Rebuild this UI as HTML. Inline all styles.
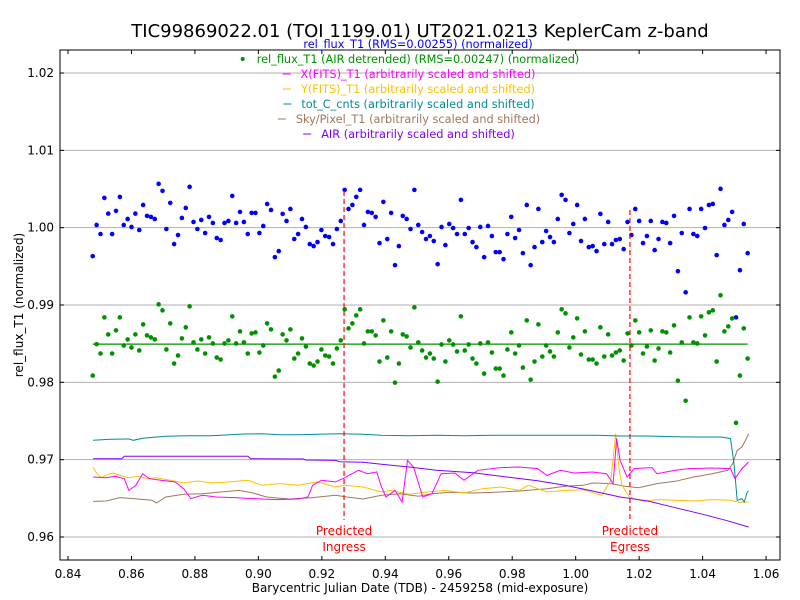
<!DOCTYPE html>
<html><head><meta charset="utf-8"><style>
html,body{margin:0;padding:0;background:#fff;}
svg{display:block;font-family:"DejaVu Sans","Liberation Sans",sans-serif;}
</style></head><body>
<svg id="chart" width="800" height="600" viewBox="0 0 800 600" xmlns="http://www.w3.org/2000/svg">
<rect x="0" y="0" width="800" height="600" fill="#fff"/>
<text x="420" y="37" font-size="18" text-anchor="middle" fill="#000">TIC99869022.01 (TOI 1199.01) UT2021.0213 KeplerCam z-band</text>
<g id="grid"></g><g id="marks"></g><g id="axes"></g><g id="legend"></g>
</svg>
<script>
const xTicks=[0.84,0.86,0.88,0.90,0.92,0.94,0.96,0.98,1.00,1.02,1.04,1.06];
const xTickLabels=["0.84","0.86","0.88","0.90","0.92","0.94","0.96","0.98","1.00","1.02","1.04","1.06"];
const yTicks=[0.96,0.97,0.98,0.99,1.00,1.01,1.02];
const yTickLabels=["0.96","0.97","0.98","0.99","1.00","1.01","1.02"];
const tStart=0.8478, tEnd=1.0542;
const blueFlux=[0.99632,1.00035,0.99918,1.00385,1.00182,0.99918,1.00217,1.00398,1.00035,1.00113,1.00009,1.00182,0.99970,1.00294,1.00152,1.00139,1.00113,1.00567,1.00476,0.99983,1.00320,0.99788,0.99905,1.00126,1.00255,1.00528,1.00074,0.99983,1.00100,0.99931,1.00139,1.00061,0.99866,0.99840,1.00061,1.00087,1.00411,1.00061,1.00204,1.00074,0.99918,1.00191,1.00191,0.99931,1.00022,1.00307,1.00229,0.99619,0.99697,1.00178,1.00087,1.00242,0.99853,0.99918,1.00113,1.00009,0.99788,0.99762,0.99814,0.99970,0.99892,0.99879,0.99788,0.99983,1.00087,1.00489,1.00242,1.00294,1.00398,1.00489,1.00035,1.00204,1.00191,1.00139,0.99801,1.00333,0.99853,1.00191,0.99515,0.99762,1.00152,1.00113,0.99983,1.00489,1.00035,
0.99944,0.99853,0.99892,0.99827,0.99528,1.00009,0.99775,1.00048,0.99996,0.99918,1.00359,0.99918,0.99996,0.99814,0.99749,1.00009,0.99619,1.00022,0.99892,0.99684,0.99684,0.99593,0.99918,1.00139,0.99866,0.99970,0.99671,1.00294,0.99515,0.99749,1.00242,0.99814,0.99957,0.99879,0.99814,1.00113,1.00424,1.00359,0.99931,1.00048,1.00294,0.99827,1.00113,0.99749,0.99762,0.99697,1.00178,0.99788,1.00074,0.99788,0.99840,0.99853,0.99723,1.00074,0.99905,1.00242,1.00087,0.99801,0.99892,1.00087,0.99710,0.99853,1.00074,1.00061,0.99801,1.00152,0.99437,0.99931,0.99164,1.00242,0.99918,0.99892,1.00242,0.99996,1.00294,1.00307,0.99645,1.00502,1.00035,1.00100,1.00204,0.98840,0.99450,1.00048,0.99671];
const greenFlux=[0.98087,0.98494,0.98373,0.98840,0.98620,0.98373,0.98672,0.98840,0.98477,0.98555,0.98451,0.98620,0.98412,0.98749,0.98607,0.98581,0.98555,0.99009,0.98931,0.98425,0.98762,0.98243,0.98347,0.98568,0.98711,0.98983,0.98516,0.98425,0.98555,0.98373,0.98581,0.98503,0.98321,0.98295,0.98503,0.98542,0.98853,0.98503,0.98659,0.98516,0.98373,0.98633,0.98646,0.98386,0.98477,0.98762,0.98685,0.98074,0.98152,0.98620,0.98542,0.98685,0.98308,0.98373,0.98568,0.98464,0.98243,0.98217,0.98269,0.98425,0.98347,0.98334,0.98243,0.98438,0.98542,0.98944,0.98698,0.98762,0.98866,0.98944,0.98503,0.98659,0.98659,0.98607,0.98269,0.98801,0.98321,0.98659,0.97996,0.98243,0.98620,0.98594,0.98451,0.98970,0.98516,
0.98412,0.98321,0.98373,0.98308,0.98009,0.98490,0.98269,0.98542,0.98490,0.98399,0.98853,0.98412,0.98490,0.98308,0.98243,0.98503,0.98113,0.98516,0.98386,0.98178,0.98178,0.98087,0.98425,0.98646,0.98373,0.98477,0.98191,0.98801,0.98035,0.98269,0.98749,0.98334,0.98477,0.98399,0.98334,0.98646,0.98944,0.98892,0.98451,0.98581,0.98827,0.98360,0.98659,0.98295,0.98295,0.98243,0.98711,0.98334,0.98620,0.98347,0.98386,0.98412,0.98282,0.98633,0.98477,0.98801,0.98646,0.98373,0.98464,0.98672,0.98282,0.98438,0.98659,0.98646,0.98386,0.98736,0.98022,0.98516,0.97762,0.98840,0.98516,0.98503,0.98853,0.98607,0.98905,0.98931,0.98269,0.99126,0.98659,0.98723,0.98827,0.97476,0.98087,0.98698,0.98308];
const greenMean=0.98494;
const tealT=[0.8479,0.8534,0.8592,0.8606,0.8635,0.8708,0.8780,0.8852,0.8954,0.9011,0.9069,0.9127,0.9185,0.9257,0.9330,0.9388,0.9475,0.9561,0.9648,0.9735,0.9822,0.9909,0.9995,1.0068,1.0140,1.0227,1.0314,1.0372,1.0459,1.0488,1.0499,1.0509,1.0524,1.0531,1.0541,1.0545];
const tealV=[0.97250,0.97263,0.97267,0.97250,0.97276,0.97302,0.97310,0.97310,0.97332,0.97336,0.97323,0.97323,0.97328,0.97336,0.97328,0.97315,0.97310,0.97315,0.97310,0.97315,0.97315,0.97315,0.97315,0.97315,0.97306,0.97306,0.97297,0.97293,0.97293,0.97272,0.96948,0.96474,0.96496,0.96453,0.96582,0.96595];
const airT=[0.8479,0.8570,0.8577,0.8968,0.8975,0.9142,0.9149,0.9243,0.9257,0.9330,0.9388,0.9475,0.9561,0.9677,0.9764,0.9880,0.9966,1.0053,1.0140,1.0227,1.0314,1.0401,1.0473,1.0545];
const airV=[0.97013,0.97013,0.97043,0.97043,0.97013,0.97009,0.96996,0.96991,0.96974,0.96966,0.96940,0.96905,0.96862,0.96832,0.96785,0.96728,0.96668,0.96595,0.96517,0.96466,0.96379,0.96293,0.96216,0.96129];
const yfitsT=[0.8479,0.8491,0.8505,0.8520,0.8541,0.8563,0.8592,0.8621,0.8650,0.8679,0.8722,0.8765,0.8809,0.8852,0.8896,0.8968,0.9011,0.9069,0.9127,0.9185,0.9243,0.9272,0.9330,0.9388,0.9417,0.9475,0.9532,0.9590,0.9648,0.9706,0.9764,0.9822,0.9851,0.9909,0.9966,1.0024,1.0082,1.0111,1.0126,1.0137,1.0146,1.0169,1.0213,1.0256,1.0314,1.0372,1.0430,1.0488,1.0516,1.0545];
const yfitsV=[0.96905,0.96819,0.96767,0.96797,0.96828,0.96797,0.96767,0.96785,0.96754,0.96767,0.96733,0.96698,0.96724,0.96698,0.96707,0.96733,0.96668,0.96690,0.96668,0.96712,0.96647,0.96668,0.96647,0.96582,0.96603,0.96552,0.96582,0.96603,0.96569,0.96625,0.96647,0.96603,0.96668,0.96582,0.96603,0.96612,0.96539,0.96733,0.97336,0.96862,0.96668,0.96517,0.96461,0.96483,0.96474,0.96466,0.96483,0.96474,0.96448,0.96453];
const xfitsT=[0.8479,0.8520,0.8548,0.8577,0.8592,0.8614,0.8635,0.8657,0.8693,0.8737,0.8765,0.8787,0.8823,0.8867,0.8925,0.8983,0.9055,0.9127,0.9156,0.9171,0.9200,0.9243,0.9272,0.9315,0.9344,0.9373,0.9388,0.9402,0.9431,0.9453,0.9470,0.9489,0.9518,0.9547,0.9576,0.9619,0.9648,0.9692,0.9764,0.9822,0.9880,0.9909,0.9952,0.9995,1.0053,1.0097,1.0118,1.0129,1.0140,1.0162,1.0184,1.0241,1.0256,1.0314,1.0357,1.0430,1.0488,1.0502,1.0524,1.0545];
const xfitsV=[0.96776,0.96767,0.96785,0.96754,0.96603,0.96668,0.96819,0.96754,0.96733,0.96712,0.96625,0.96496,0.96539,0.96517,0.96509,0.96496,0.96483,0.96491,0.96517,0.96668,0.96733,0.96712,0.96767,0.96862,0.96819,0.96841,0.96647,0.96517,0.96603,0.96453,0.96991,0.96905,0.96517,0.96560,0.96819,0.96828,0.96733,0.96862,0.96897,0.96905,0.96884,0.96797,0.96862,0.96828,0.96841,0.96819,0.96690,0.97272,0.96991,0.96776,0.96884,0.96897,0.96819,0.96862,0.96884,0.96892,0.96884,0.96754,0.96884,0.96970];
const skyT=[0.8479,0.8520,0.8563,0.8621,0.8664,0.8679,0.8708,0.8765,0.8823,0.8881,0.8939,0.8983,0.9026,0.9098,0.9171,0.9243,0.9279,0.9330,0.9388,0.9446,0.9504,0.9547,0.9605,0.9677,0.9764,0.9822,0.9909,0.9966,1.0024,1.0053,1.0111,1.0155,1.0198,1.0256,1.0314,1.0372,1.0430,1.0480,1.0495,1.0509,1.0524,1.0538,1.0545];
const skyV=[0.96461,0.96466,0.96509,0.96491,0.96474,0.96440,0.96517,0.96552,0.96560,0.96582,0.96603,0.96569,0.96517,0.96491,0.96509,0.96539,0.96517,0.96491,0.96539,0.96560,0.96526,0.96560,0.96578,0.96569,0.96582,0.96595,0.96625,0.96655,0.96668,0.96698,0.96690,0.96655,0.96638,0.96690,0.96720,0.96776,0.96819,0.96862,0.96948,0.97121,0.97164,0.97272,0.97336];
const ingressT=0.9270, egressT=1.0171;

const L=60,R=780,T=50,B=560;
function sx(t){return 68+(t-0.84)*3173;}
function sy(v){return 537-(v-0.96)*7733;}
function tAt(i,n){return tStart+(tEnd-tStart)*i/(n-1);}
const NS="http://www.w3.org/2000/svg";
function mk(tag,attrs,parent){const e=document.createElementNS(NS,tag);for(const k in attrs)e.setAttribute(k,attrs[k]);parent.appendChild(e);return e;}
const grid=document.getElementById('grid'),marks=document.getElementById('marks'),axes=document.getElementById('axes'),legend=document.getElementById('legend');

yTicks.forEach((v,i)=>{
  const g=mk('line',{x1:L,x2:R,y1:sy(v),y2:sy(v),stroke:'#b0b0b0','stroke-width':1},grid);
  
  
  mk('line',{x1:L,x2:L+4,y1:sy(v),y2:sy(v),stroke:'#000'},axes);
  mk('line',{x1:R-4,x2:R,y1:sy(v),y2:sy(v),stroke:'#000'},axes);
  const t=mk('text',{x:L-6,y:sy(v)+4,'font-size':12,'text-anchor':'end',fill:'#000'},axes);
  t.textContent=yTickLabels[i];
  
  
});
xTicks.forEach((v,i)=>{
  mk('line',{x1:sx(v),x2:sx(v),y1:B,y2:B-4,stroke:'#000'},axes);
  mk('line',{x1:sx(v),x2:sx(v),y1:T,y2:T+4,stroke:'#000'},axes);
  const t=mk('text',{x:sx(v),y:B+18,'font-size':12,'text-anchor':'middle',fill:'#000'},axes);
  t.textContent=xTickLabels[i];
  
  
});
const frame=mk('rect',{x:L,y:T,width:R-L,height:B-T,fill:'none',stroke:'#000','stroke-width':1},axes);


const xl=mk('text',{x:420,y:592,'font-size':12,'text-anchor':'middle'},axes);
xl.textContent='Barycentric Julian Date (TDB) - 2459258 (mid-exposure)';


const yl=mk('text',{x:0,y:0,'font-size':12,'text-anchor':'middle',transform:'translate(23,305) rotate(-90)'},axes);
yl.textContent='rel_flux_T1 (normalized)';



function line(ts,vs,color,name){
  const p=mk('polyline',{points:ts.map((t,i)=>sx(t).toFixed(1)+','+sy(vs[i]).toFixed(1)).join(' '),fill:'none',stroke:color,'stroke-width':1},marks);
  
  
}
line(skyT,skyV,'#a0785a','sky-pixel-line');
line(yfitsT,yfitsV,'#ffc000','y-fits-line');
line(xfitsT,xfitsV,'#ff00ff','x-fits-line');
line(airT,airV,'#8000ff','air-line');
line(tealT,tealV,'#008b9b','tot-c-cnts-line');

function pts(vals,color,name){
  vals.forEach((v,i)=>{
    const c=mk('circle',{cx:sx(tAt(i,vals.length)),cy:sy(v),r:2.3,fill:color},marks);
    
    
  });
}
pts(blueFlux,'#0000ff','rel-flux-point');
const ml=mk('line',{x1:sx(tStart),x2:sx(tEnd),y1:sy(greenMean),y2:sy(greenMean),stroke:'#009000','stroke-width':1.3},marks);


pts(greenFlux,'#009000','detrended-flux-point');

[[ingressT,191,['Predicted','Ingress'],'ingress'],[egressT,210,['Predicted','Egress'],'egress']].forEach(([t,y0,lab,n])=>{
  const l=mk('line',{x1:sx(t),x2:sx(t),y1:y0,y2:520,stroke:'#ff0000','stroke-width':1.2,'stroke-dasharray':'5,3'},marks);
  
  
  lab.forEach((s,k)=>{
    const tx=mk('text',{x:sx(t),y:535+k*16,'font-size':12,'text-anchor':'middle',fill:'#ff0000'},marks);
    tx.textContent=s;
    
    
  });
});

const leg=[['rel_flux_T1 (RMS=0.00255) (normalized)','#0000ff',''],
['rel_flux_T1 (AIR detrended) (RMS=0.00247) (normalized)','#009000','dot'],
['X(FITS)_T1 (arbitrarily scaled and shifted)','#ff00ff','dash'],
['Y(FITS)_T1 (arbitrarily scaled and shifted)','#ffc000','dash'],
['tot_C_cnts (arbitrarily scaled and shifted)','#008b9b','dash'],
['Sky/Pixel_T1 (arbitrarily scaled and shifted)','#a0785a','dash'],
['AIR (arbitrarily scaled and shifted)','#8000ff','dash']];
leg.forEach((e,i)=>{
  const y=48+i*15;
  const tx=mk('text',{x:418,y:y,'font-size':11.3,'text-anchor':'middle',fill:e[1]},legend);
  tx.textContent=e[0];
  
  
  const w=tx.getComputedTextLength();
  const x0=418-w/2-18;
  if(e[2]==='dot')mk('circle',{cx:x0+4,cy:y-4,r:2,fill:e[1]},legend);
  if(e[2]==='dash')mk('line',{x1:x0,x2:x0+8,y1:y-4,y2:y-4,stroke:e[1]},legend);
});
</script>
</body></html>
